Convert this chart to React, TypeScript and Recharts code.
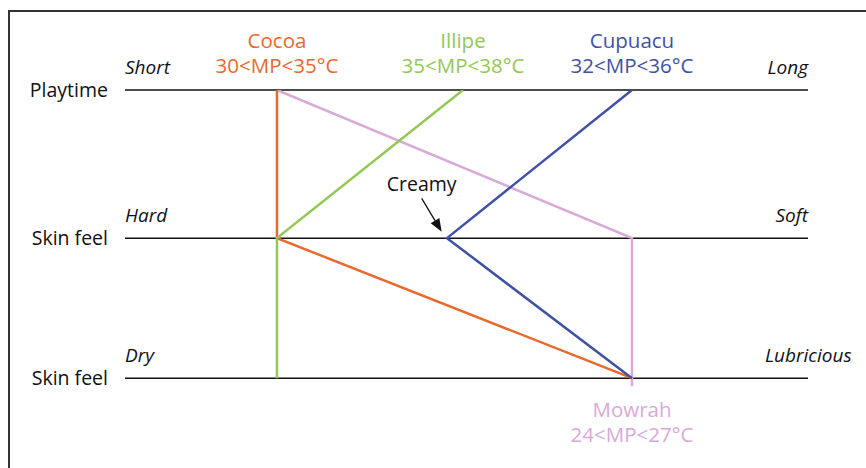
import React from 'react';
import { LineChart, Line, XAxis, YAxis, ReferenceLine, ReferenceDot } from 'recharts';

// Three property scales (rows), from top to bottom
const rowLevels = [100, 48.6, 0];
const rowNames = ['Playtime', 'Skin feel', 'Skin feel'];
const lowEnds = ['Short', 'Hard', 'Dry'];
const highEnds = ['Long', 'Soft', 'Lubricious'];

// Butters
const butterNames = ['Cocoa', 'Illipe', 'Cupuacu', 'Mowrah'];
const meltRanges = ['30<MP<35°C', '35<MP<38°C', '32<MP<36°C', '24<MP<27°C'];
const butterColors = ['#E8692D', '#92C855', '#3F51A5', '#D9A9D8'];

// Positions of each butter on the three scales (x: 0 = left end, 100 = right end)
const cocoaX = [22.25, 22.25, 74.23];
const cocoaY = [100, 48.6, 0];
const illipeX = [49.49, 22.25, 22.25];
const illipeY = [100, 48.6, 0];
const cupuacuX = [74.23, 47.14, 74.23];
const cupuacuY = [100, 48.6, 0];
const mowrahX = [22.25, 74.23, 74.23, 74.23];
const mowrahY = [100, 48.6, 0, -2.8];

// Where each butter's name is attached
const nameX = [22.25, 49.49, 74.23, 74.23];
const nameY = [100, 100, 100, 0];

// "Creamy" annotation arrow
const creamyText = 'Creamy';
const creamyX = [43.44, 46.37];
const creamyY = [62.4, 50.8];

const toPoints = (xs: number[], ys: number[]) => xs.map((x, i) => ({ x, y: ys[i] }));

const FONT = "'Open Sans', 'Noto Sans', sans-serif";
const FS = 19.5;
const FS_NAME = 20.5;

const highAnchors = ['end', 'end', 'start'];
const highOffsets = [0, 0, -43];

const RowShape = (idx: number) => (p: any) => {
  const { x1, y1, x2 } = p;
  const left = Math.min(x1, x2);
  const right = Math.max(x1, x2);
  return (
    <g>
      <line x1={left} y1={y1} x2={right} y2={y1} stroke="#111" strokeWidth={1.5} />
      <text x={left - 17} y={y1 + 7} textAnchor="end" fontFamily={FONT} fontSize={FS} fill="#111">
        {rowNames[idx]}
      </text>
      <text x={left} y={y1 - 16} textAnchor="start" fontFamily={FONT} fontSize={19} fontStyle="italic" fill="#111">
        {lowEnds[idx]}
      </text>
      <text
        x={right + highOffsets[idx]}
        y={y1 - 16}
        textAnchor={highAnchors[idx] as any}
        fontFamily={FONT}
        fontSize={19}
        fontStyle="italic"
        fill="#111"
      >
        {highEnds[idx]}
      </text>
    </g>
  );
};

const NameShape = (idx: number) => (p: any) => {
  const { cx, cy } = p;
  const below = idx === 3;
  const y1 = below ? cy + 39 : cy - 42;
  const y2 = below ? cy + 64 : cy - 17;
  return (
    <g>
      <text x={cx} y={y1} textAnchor="middle" fontFamily={FONT} fontSize={FS_NAME} fill={butterColors[idx]}>
        {butterNames[idx]}
      </text>
      <text x={cx} y={y2} textAnchor="middle" fontFamily={FONT} fontSize={FS_NAME} fill={butterColors[idx]}>
        {meltRanges[idx]}
      </text>
    </g>
  );
};

const ArrowShape = (p: any) => {
  const { x1, y1, x2, y2 } = p;
  const dx = x2 - x1;
  const dy = y2 - y1;
  const len = Math.sqrt(dx * dx + dy * dy);
  const ux = dx / len;
  const uy = dy / len;
  const hl = 13;
  const hw = 5;
  const bx = x2 - ux * hl;
  const by = y2 - uy * hl;
  const pts = `${x2},${y2} ${bx - uy * hw},${by + ux * hw} ${bx + uy * hw},${by - ux * hw}`;
  return (
    <g>
      <text x={x1} y={y1 - 7} textAnchor="middle" fontFamily={FONT} fontSize={FS} fill="#111">
        {creamyText}
      </text>
      <line x1={x1} y1={y1} x2={bx} y2={by} stroke="#111" strokeWidth={1.3} />
      <polygon points={pts} fill="#111" />
    </g>
  );
};

const series = [
  { name: 'Mowrah', data: toPoints(mowrahX, mowrahY), color: butterColors[3] },
  { name: 'Cocoa', data: toPoints(cocoaX, cocoaY), color: butterColors[0] },
  { name: 'Illipe', data: toPoints(illipeX, illipeY), color: butterColors[1] },
  { name: 'Cupuacu', data: toPoints(cupuacuX, cupuacuY), color: butterColors[2] },
];

export default function App() {
  return (
    <div style={{ position: 'absolute', left: 0, top: 0, width: 866, height: 468, overflow: 'hidden', background: '#fff' }}>
      <div
        style={{
          position: 'absolute',
          left: 8,
          top: 10,
          width: 900,
          height: 500,
          borderLeft: '2px solid #333',
          borderTop: '2px solid #333',
        }}
      />
      <div style={{ position: 'absolute', left: 0, top: 0 }}>
        <LineChart width={866} height={468} margin={{ top: 90, right: 58, bottom: 61, left: 125 }}>
          <XAxis type="number" dataKey="x" domain={[0, 100]} hide allowDataOverflow />
          <YAxis type="number" dataKey="y" domain={[-10, 100]} hide allowDataOverflow />
          {rowLevels.map((lv, i) => (
            <ReferenceLine key={'row' + i} y={lv} shape={RowShape(i)} ifOverflow="visible" />
          ))}
          {series.map((s) => (
            <Line
              key={s.name}
              data={s.data}
              dataKey="y"
              type="linear"
              stroke={s.color}
              strokeWidth={2.5}
              dot={false}
              activeDot={false}
              isAnimationActive={false}
            />
          ))}
          {nameX.map((x, i) => (
            <ReferenceDot key={'name' + i} x={x} y={nameY[i]} r={0} shape={NameShape(i)} ifOverflow="visible" />
          ))}
          <ReferenceLine
            segment={[
              { x: creamyX[0], y: creamyY[0] },
              { x: creamyX[1], y: creamyY[1] },
            ]}
            shape={ArrowShape}
            ifOverflow="visible"
          />
        </LineChart>
      </div>
    </div>
  );
}
